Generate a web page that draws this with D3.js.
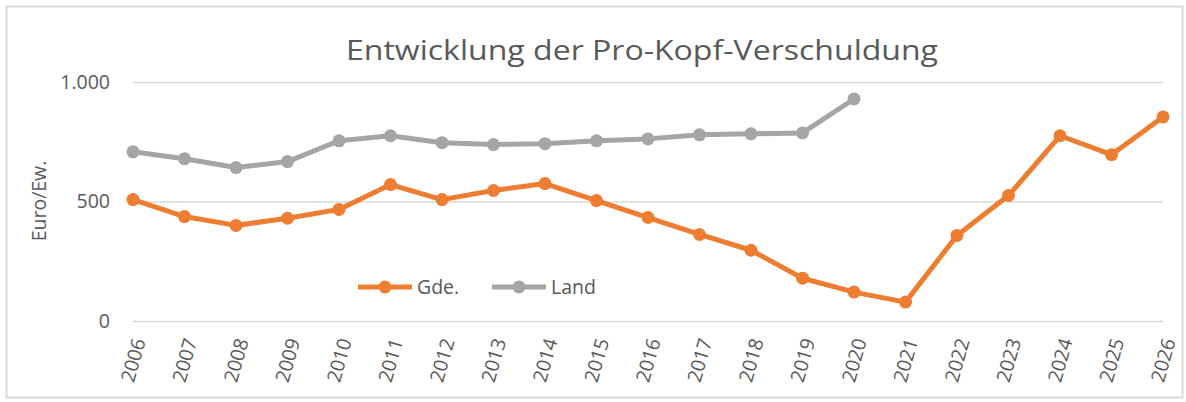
<!DOCTYPE html>
<html>
<head>
<meta charset="utf-8">
<script src="https://cdn.jsdelivr.net/npm/d3@7"></script>
<style>
  body { margin: 0; background: #fff; }
  text { font-family: "Open Sans", "Noto Sans", sans-serif; fill: #595959; }
</style>
</head>
<body>
<div id="chart"></div>
<script>
// data
const years = d3.range(2006, 2027).map(String);
const gde = [508, 437, 400, 430, 467, 571, 508, 546, 575, 504, 433, 362, 296, 179, 121, 79, 358, 525, 775, 696, 854];
const land = [708, 679, 642, 667, 754, 775, 746, 738, 742, 754, 762, 779, 783, 787, 929];
const yTicks = [0, 500, 1000];
const seriesNames = ["Gde.", "Land"];
const colors = ["#ED7D31", "#A5A5A5"];

const W = 1186, H = 402;
const margin = { top: 82, right: 23, bottom: 81, left: 133 };
const width = W - margin.left - margin.right;
const height = H - margin.top - margin.bottom;

const svg = d3.select("#chart").append("svg")
  .attr("width", W)
  .attr("height", H);

// outer frame
svg.append("rect")
  .attr("x", 6.5).attr("y", 6.5)
  .attr("width", W - 10).attr("height", H - 11)
  .attr("fill", "#fff")
  .attr("stroke", "#d9d9d9")
  .attr("stroke-width", 2);

const g = svg.append("g")
  .attr("transform", "translate(" + margin.left + "," + margin.top + ")");

const x = d3.scalePoint().domain(years).range([0, width]);
const y = d3.scaleLinear().domain([0, 1000]).range([height, 0]);

// gridlines + y labels
const yAxis = g.append("g")
  .call(d3.axisLeft(y).tickValues(yTicks).tickSize(-width)
    .tickFormat(d => d3.format(",")(d).replace(",", ".")));
yAxis.select(".domain").remove();
yAxis.selectAll(".tick line").attr("stroke", "#d9d9d9").attr("stroke-width", 1.5);
yAxis.selectAll(".tick text")
  .attr("x", -23)
  .style("font-size", "19.5px");

// x labels
const xAxis = g.append("g")
  .attr("transform", "translate(0," + height + ")")
  .call(d3.axisBottom(x).tickSize(0));
xAxis.select(".domain").remove();
xAxis.selectAll(".tick text")
  .style("font-size", "19.5px")
  .attr("text-anchor", "end")
  .attr("dy", "0.35em")
  .attr("transform", "translate(3,17) rotate(-74)");

// lines
const line = d3.line()
  .x((d, i) => x(years[i]))
  .y(d => y(d));

[gde, land].forEach((vals, k) => {
  g.append("path")
    .datum(vals)
    .attr("fill", "none")
    .attr("stroke", colors[k])
    .attr("stroke-width", 5)
    .attr("stroke-linejoin", "round")
    .attr("d", line);
  g.selectAll(".dot" + k)
    .data(vals)
    .enter().append("circle")
      .attr("cx", (d, i) => x(years[i]))
      .attr("cy", d => y(d))
      .attr("r", 6.5)
      .attr("fill", colors[k]);
});

// title
svg.append("text")
  .attr("x", 642).attr("y", 60)
  .attr("text-anchor", "middle")
  .attr("textLength", 592)
  .attr("lengthAdjust", "spacingAndGlyphs")
  .style("font-size", "28px")
  .text("Entwicklung der Pro-Kopf-Verschuldung");

// y axis title
svg.append("text")
  .attr("transform", "translate(46,201) rotate(-90)")
  .attr("text-anchor", "middle")
  .style("font-size", "19.5px")
  .text("Euro/Ew.");

// legend
const legend = svg.append("g").attr("transform", "translate(358,287)");
seriesNames.forEach((name, k) => {
  const lg = legend.append("g").attr("transform", "translate(" + (k * 134) + ",0)");
  lg.append("line")
    .attr("x1", 0).attr("x2", 54)
    .attr("stroke", colors[k]).attr("stroke-width", 5);
  lg.append("circle").attr("cx", 27).attr("r", 6.5).attr("fill", colors[k]);
  lg.append("text")
    .attr("x", 59).attr("dy", "0.35em")
    .style("font-size", "19.5px")
    .text(name);
});
</script>
</body>
</html>
